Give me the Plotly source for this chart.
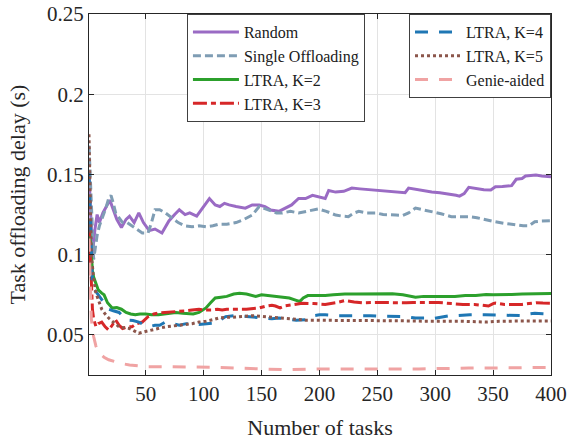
import plotly.graph_objects as go

# ---------------- data ----------------
rand_x = [1,2,3,4,6,8,10,13,16,19,22,25,29,33,36,40,44,48,53,58,64,67,70,75,79,84,88,94,100,105,110,114,118,122,128,136,142,148,153,158,165,170,176,182,188,194,200,205,208,214,221,228,235,242,249,256,263,270,274,277,284,290,297,304,311,318,321,325,329,336,342,348,352,358,366,370,375,378,383,387,392,396,400]
rand_y = [0.15,0.13,0.11,0.10,0.115,0.125,0.12,0.126,0.13,0.134,0.128,0.122,0.117,0.122,0.124,0.12,0.126,0.12,0.115,0.116,0.1135,0.117,0.121,0.125,0.128,0.125,0.126,0.124,0.13,0.135,0.131,0.13,0.132,0.131,0.13,0.129,0.131,0.131,0.13,0.1278,0.127,0.129,0.131,0.135,0.135,0.137,0.136,0.135,0.14,0.139,0.1395,0.1415,0.141,0.1405,0.14,0.1395,0.139,0.1385,0.1386,0.1415,0.1405,0.140,0.139,0.1386,0.138,0.137,0.1365,0.138,0.142,0.141,0.1405,0.1403,0.1423,0.1425,0.143,0.147,0.1475,0.149,0.1493,0.1496,0.149,0.149,0.1486]

single_x = [1,2,3,4,5,6,8,10,12,14,16,18,20,22,24,27,30,34,38,42,47,52,55,58,62,67,72,78,84,90,96,102,108,113,120,128,135,142,148,152,157,163,168,175,182,190,199,206,214,220,225,230,234,241,249,255,260,266,272,277,283,290,297,305,314,322,329,336,344,352,360,369,376,381,386,392,398,400]
single_y = [0.168,0.15,0.13,0.105,0.097,0.102,0.112,0.118,0.122,0.125,0.13,0.135,0.137,0.132,0.126,0.123,0.12,0.12,0.118,0.116,0.1135,0.1135,0.12,0.128,0.128,0.126,0.123,0.12,0.118,0.1174,0.118,0.1174,0.118,0.119,0.119,0.12,0.122,0.1247,0.13,0.129,0.1278,0.126,0.126,0.127,0.126,0.127,0.1285,0.127,0.1247,0.124,0.1237,0.126,0.127,0.126,0.126,0.125,0.1247,0.1247,0.1245,0.126,0.129,0.128,0.127,0.1255,0.1237,0.1237,0.1237,0.123,0.1216,0.1205,0.1195,0.1185,0.118,0.118,0.1205,0.121,0.121,0.1212]

k2_x = [1,2,3,4,5,7,9,12,14,17,21,25,29,33,37,41,45,50,55,61,66,71,76,82,87,91,96,102,106,110,115,120,126,131,137,145,150,156,165,170,174,180,183,186,190,198,205,212,222,232,243,253,263,272,283,290,300,308,317,326,335,344,350,358,366,375,386,394,400]
k2_y = [0.12,0.11,0.095,0.09,0.086,0.082,0.078,0.076,0.075,0.07,0.0668,0.067,0.066,0.064,0.063,0.0625,0.063,0.063,0.0625,0.0625,0.063,0.0635,0.064,0.0635,0.063,0.063,0.064,0.0668,0.07,0.073,0.0735,0.074,0.0755,0.076,0.0755,0.074,0.075,0.0745,0.074,0.0735,0.073,0.0715,0.0708,0.073,0.0745,0.0745,0.0745,0.075,0.0755,0.0755,0.0757,0.0755,0.0757,0.075,0.0735,0.074,0.0738,0.074,0.074,0.0745,0.0745,0.0752,0.075,0.075,0.0752,0.0755,0.0755,0.0757,0.0758]

k3_x = [1,2,3,4,5,7,9,12,15,18,21,24,27,30,34,38,42,47,52,57,62,68,73,78,84,90,96,101,107,112,116,120,125,131,137,143,148,153,159,162,166,170,175,180,185,195,205,214,222,230,237,248,258,266,275,281,292,303,314,324,334,342,346,350,352,360,368,375,381,387,393,400]
k3_y = [0.12,0.1,0.075,0.0655,0.06,0.0552,0.057,0.058,0.055,0.053,0.056,0.0593,0.056,0.054,0.055,0.055,0.057,0.058,0.0613,0.063,0.0637,0.064,0.064,0.0645,0.065,0.0655,0.066,0.0655,0.0655,0.066,0.0655,0.066,0.066,0.0662,0.066,0.0665,0.0668,0.0678,0.0685,0.068,0.0668,0.068,0.0685,0.069,0.0697,0.0695,0.069,0.07,0.0714,0.0705,0.07,0.0702,0.07,0.0698,0.07,0.0702,0.070,0.0702,0.0695,0.069,0.069,0.0685,0.068,0.0695,0.0698,0.069,0.069,0.069,0.0695,0.070,0.0698,0.0697]

k4_x = [1,2,3,4,5,7,10,14,18,22,27,31,34,39,44,49,53,58,62,67,72,79,85,90,96,102,107,112,116,119,126,131,137,145,152,159,165,172,180,188,195,200,205,215,225,236,244,251,262,274,283,291,297,305,313,320,330,343,353,366,374,380,386,393,400]
k4_y = [0.152,0.13,0.1,0.08,0.078,0.077,0.074,0.07,0.066,0.065,0.064,0.061,0.0593,0.059,0.058,0.056,0.0552,0.056,0.056,0.058,0.057,0.056,0.057,0.057,0.0565,0.057,0.057,0.0575,0.06,0.0614,0.062,0.062,0.0615,0.061,0.0605,0.060,0.0605,0.0598,0.0592,0.0595,0.062,0.0625,0.0625,0.062,0.062,0.0622,0.062,0.0617,0.0615,0.0614,0.0605,0.0605,0.060,0.061,0.062,0.062,0.0625,0.0625,0.0623,0.0622,0.062,0.063,0.0635,0.0632,0.063]

k5_x = [1,2,3,5,7,9,12,15,18,22,27,31,36,40,44,49,55,61,67,73,79,85,90,96,102,108,113,119,125,133,142,150,159,166,174,181,188,197,205,218,231,244,257,268,281,291,300,312,324,334,344,355,366,378,390,400]
k5_y = [0.175,0.14,0.1,0.085,0.076,0.072,0.066,0.063,0.0605,0.058,0.055,0.0545,0.054,0.0525,0.051,0.052,0.053,0.054,0.055,0.0555,0.056,0.0565,0.057,0.058,0.0585,0.0595,0.0605,0.061,0.061,0.0615,0.062,0.0615,0.061,0.0605,0.060,0.0595,0.0592,0.0592,0.059,0.059,0.059,0.059,0.059,0.0588,0.0587,0.0585,0.0583,0.0585,0.0585,0.0583,0.058,0.0585,0.0587,0.0587,0.0587,0.0587]

genie_x = [1,2,3,5,7,10,14,18,24,30,36,43,50,65,80,95,110,130,148,171,200,243,286,329,358,381,400]
genie_y = [0.11,0.08,0.06,0.049,0.043,0.0387,0.036,0.0345,0.033,0.032,0.0313,0.0307,0.0302,0.0302,0.0302,0.030,0.0298,0.0293,0.029,0.0283,0.0287,0.0287,0.0288,0.0293,0.0294,0.0297,0.0297]

x_ticks = [50, 100, 150, 200, 250, 300, 350, 400]
y_ticks = [0.05, 0.1, 0.15, 0.2, 0.25]
y_tick_text = ["0.05", "0.1", "0.15", "0.2", "0.25"]

# ---------------- figure ----------------
SERIF = "Liberation Serif"
INK = "#262626"

series = [
    ("Random", rand_x, rand_y, "#9a6bc4", "solid", "legend"),
    ("Single Offloading", single_x, single_y, "#7f9db4", "8px,4px", "legend"),
    ("LTRA, K=2", k2_x, k2_y, "#2ca02c", "solid", "legend"),
    ("LTRA, K=3", k3_x, k3_y, "#d62728", "14px,4px,5px,4px", "legend"),
    ("LTRA, K=4", k4_x, k4_y, "#1f77b4", "13px,11px", "legend2"),
    ("LTRA, K=5", k5_x, k5_y, "#8c564b", "3px,3px", "legend2"),
    ("Genie-aided", genie_x, genie_y, "#f0a3a3", "13px,11px", "legend2"),
]

fig = go.Figure()
for name, xs, ys, color, dash, leg in series:
    fig.add_trace(go.Scatter(
        x=xs, y=ys, mode="lines", name=name, legend=leg,
        line=dict(color=color, width=3, dash=dash),
    ))

axis_common = dict(
    showline=True, linecolor=INK, linewidth=1, mirror="ticks",
    ticks="inside", ticklen=5, tickcolor=INK,
    showgrid=True, gridcolor="#e3e3e3", gridwidth=1, zeroline=False,
    automargin=False,
    tickfont=dict(family=SERIF, size=21, color=INK),
)

fig.update_layout(
    width=574, height=440,
    font=dict(family=SERIF, size=18, color=INK),
    margin=dict(l=89, r=23, t=14, b=65),
    paper_bgcolor="white", plot_bgcolor="white",
    xaxis=dict(range=[1, 400], tickvals=x_ticks,
               title=dict(text="Number of tasks", font=dict(family=SERIF, size=22, color=INK)),
               **axis_common),
    yaxis=dict(range=[0.025, 0.25], tickvals=y_ticks, ticktext=y_tick_text,
               title=dict(text="Task offloading delay (s)", font=dict(family=SERIF, size=22, color=INK)),
               **axis_common),
    legend=dict(x=0.212, y=1, xanchor="left", yanchor="top",
                bgcolor="white", bordercolor="#404040", borderwidth=1,
                font=dict(family=SERIF, size=16, color="#202020"),
                itemwidth=46, tracegroupgap=0),
    legend2=dict(x=1, y=1, xanchor="right", yanchor="top",
                 bgcolor="white", bordercolor="#404040", borderwidth=1,
                 font=dict(family=SERIF, size=16, color="#202020"),
                 itemwidth=46, tracegroupgap=0),
)

fig.write_html("out.html")
